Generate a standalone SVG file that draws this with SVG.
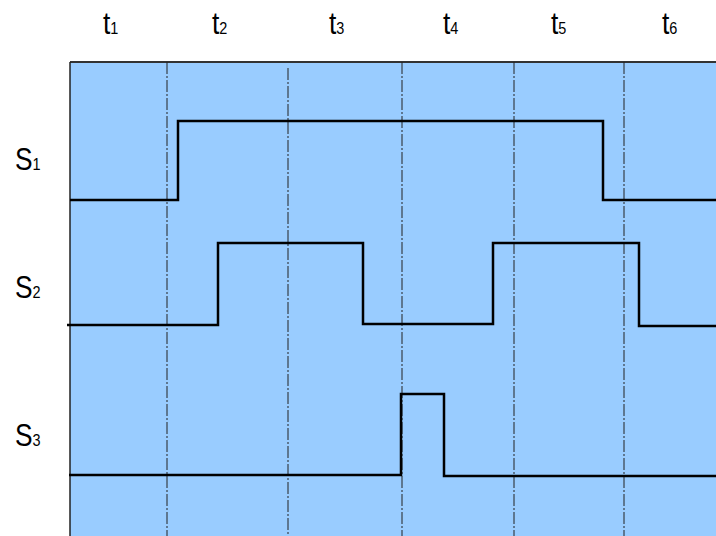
<svg xmlns="http://www.w3.org/2000/svg" width="716" height="536" viewBox="0 0 716 536">
<style>
.lbl{font-family:"Liberation Sans",Arial,sans-serif;fill:#000}
.big{font-size:31px}
.sub{font-size:17px}
.grid{stroke:#222;stroke-width:1;stroke-dasharray:12 2 2 2;fill:none}
.wave{stroke:#000;stroke-width:2.5;fill:none;stroke-linejoin:miter}
</style>
<rect x="70" y="62" width="660" height="490" fill="#99CCFF"/>
<line x1="70" y1="62" x2="716" y2="62" stroke="#333" stroke-width="2"/>
<line x1="70" y1="62" x2="70" y2="536" stroke="#222" stroke-width="1.5"/>
<g id="gridlines">
<line class="grid" x1="167" y1="62" x2="167" y2="536"/>
<line class="grid" x1="288" y1="68" x2="288" y2="536"/>
<line class="grid" x1="402" y1="62" x2="402" y2="536"/>
<line class="grid" x1="514" y1="62" x2="514" y2="536"/>
<line class="grid" x1="624" y1="62" x2="624" y2="536"/>
</g>
<g id="time-labels">
<text class="lbl big" transform="translate(103,34) scale(0.85,1)">t<tspan class="sub">1</tspan></text>
<text class="lbl big" transform="translate(212,34) scale(0.85,1)">t<tspan class="sub">2</tspan></text>
<text class="lbl big" transform="translate(329,34) scale(0.85,1)">t<tspan class="sub">3</tspan></text>
<text class="lbl big" transform="translate(443,34) scale(0.85,1)">t<tspan class="sub">4</tspan></text>
<text class="lbl big" transform="translate(551,34) scale(0.85,1)">t<tspan class="sub">5</tspan></text>
<text class="lbl big" transform="translate(662,34) scale(0.85,1)">t<tspan class="sub">6</tspan></text>
</g>
<g id="S1">
<text class="lbl big" transform="translate(15,170) scale(0.85,1)">S<tspan class="sub">1</tspan></text>
<polyline class="wave" points="70,200 178,200 178,121 603,121 603,200 716,200"/>
</g>
<g id="S2">
<text class="lbl big" transform="translate(15,298) scale(0.85,1)">S<tspan class="sub">2</tspan></text>
<polyline class="wave" points="67,325 218,325 218,243 363,243 363,324 493,324 493,243 639,243 639,326 716,326"/>
</g>
<g id="S3">
<text class="lbl big" transform="translate(15,446) scale(0.85,1)">S<tspan class="sub">3</tspan></text>
<polyline class="wave" points="69,475 401,475 401,394 444,394 444,476 716,476"/>
</g>
</svg>
